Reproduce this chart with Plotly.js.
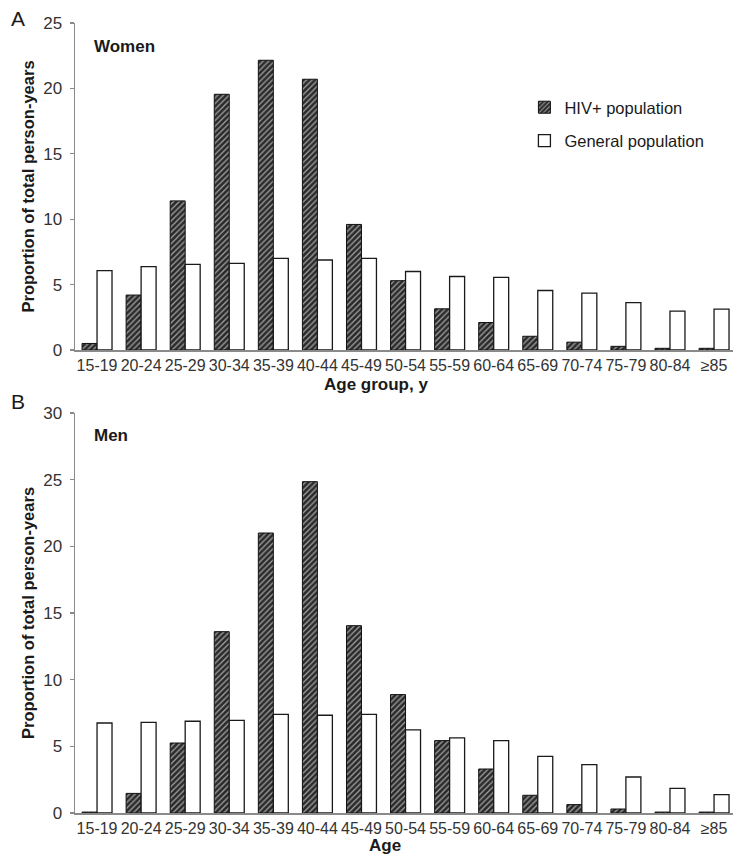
<!DOCTYPE html>
<html>
<head>
<meta charset="utf-8">
<script src="https://cdn.plot.ly/plotly-3.0.1.min.js"></script>
<style>html,body{margin:0;padding:0;background:#fff;}#chart{width:733px;height:857px;}</style>
</head>
<body>
<div id="chart"></div>
<script>
const ageGroups = ["15-19","20-24","25-29","30-34","35-39","40-44","45-49","50-54","55-59","60-64","65-69","70-74","75-79","80-84","\u226585"];
const womenHIV = [0.5, 4.2, 11.4, 19.55, 22.15, 20.7, 9.6, 5.3, 3.15, 2.1, 1.05, 0.6, 0.28, 0.13, 0.13];
const womenGeneral = [6.07, 6.37, 6.55, 6.63, 7.0, 6.88, 7.0, 6.0, 5.62, 5.55, 4.55, 4.35, 3.62, 2.97, 3.13];
const menHIV = [0.07, 1.47, 5.25, 13.6, 21.0, 24.85, 14.05, 8.88, 5.43, 3.3, 1.33, 0.63, 0.3, 0.07, 0.07];
const menGeneral = [6.75, 6.8, 6.88, 6.95, 7.4, 7.33, 7.4, 6.23, 5.63, 5.43, 4.25, 3.63, 2.7, 1.85, 1.38];
const seriesNames = ["HIV+ population", "General population"];
const panelLabels = ["A", "B"];
const panelTitles = ["Women", "Men"];
const xTitles = ["Age group, y", "Age"];
const yTitle = "Proportion of total person-years";

const FONT = "Arial, 'Liberation Sans', sans-serif";
const hivMarker = {
  color: "#3a3a3a",
  line: {color: "#111", width: 1},
  pattern: {shape: "/", bgcolor: "#2a2a2a", fgcolor: "#a0a0a0", size: 4, solidity: 0.33}
};
const genMarker = {color: "#ffffff", line: {color: "#1a1a1a", width: 1.3}};

const traces = [
  {type: "bar", x: ageGroups, y: womenHIV, name: seriesNames[0], marker: hivMarker, xaxis: "x", yaxis: "y", legendgroup: "a"},
  {type: "bar", x: ageGroups, y: womenGeneral, name: seriesNames[1], marker: genMarker, xaxis: "x", yaxis: "y", legendgroup: "b"},
  {type: "bar", x: ageGroups, y: menHIV, name: seriesNames[0], marker: hivMarker, xaxis: "x2", yaxis: "y2", showlegend: false},
  {type: "bar", x: ageGroups, y: menGeneral, name: seriesNames[1], marker: genMarker, xaxis: "x2", yaxis: "y2", showlegend: false}
];

const H = 857;
const xAx = {
  range: [-0.5, 14.43],
  showline: true, linecolor: "#8a8a8a", linewidth: 1.5,
  ticks: "", showgrid: false, zeroline: false,
  tickfont: {family: FONT, size: 16, color: "#333"},
  fixedrange: true
};
const yAxBase = {
  showline: true, linecolor: "#8a8a8a", linewidth: 1.5,
  ticks: "outside", ticklen: 4, tickcolor: "#8a8a8a", tickwidth: 1.2,
  showgrid: false, zeroline: false, dtick: 5,
  ticklabelstandoff: 4,
  tickfont: {family: FONT, size: 17, color: "#333"},
  title: {text: yTitle, font: {family: FONT, size: 16.5, color: "#1a1a1a", weight: "bold"}, standoff: 4}
};

const layout = {
  width: 733, height: H,
  margin: {l: 75, r: 0, t: 0, b: 0},
  paper_bgcolor: "#fff", plot_bgcolor: "#fff",
  barmode: "group", bargap: 0.32, bargroupgap: 0,
  showlegend: true,
  legend: {
    x: 0.683, y: 1 - 90/H, xanchor: "left", yanchor: "top",
    font: {family: FONT, size: 16.5, color: "#1a1a1a"},
    bgcolor: "rgba(0,0,0,0)", traceorder: "grouped", tracegroupgap: 9
  },
  xaxis: Object.assign({}, xAx, {domain: [0, 1], anchor: "y"}),
  yaxis: Object.assign({}, yAxBase, {domain: [1 - 350/H, 1 - 23/H], range: [0, 25], anchor: "x"}),
  xaxis2: Object.assign({}, xAx, {domain: [0, 1], anchor: "y2"}),
  yaxis2: Object.assign({}, yAxBase, {domain: [1 - 813/H, 1 - 413/H], range: [0, 30], anchor: "x2"}),
  annotations: [
    {text: panelLabels[0], xref: "paper", yref: "paper", x: (18-75)/658, y: 1 - 18/H, xanchor: "center", yanchor: "middle", showarrow: false, font: {family: FONT, size: 21, color: "#1a1a1a"}},
    {text: panelLabels[1], xref: "paper", yref: "paper", x: (18-75)/658, y: 1 - 401/H, xanchor: "center", yanchor: "middle", showarrow: false, font: {family: FONT, size: 21, color: "#1a1a1a"}},
    {text: "<b>" + panelTitles[0] + "</b>", xref: "paper", yref: "paper", x: (92-75)/658, y: 1 - 47/H, xanchor: "left", yanchor: "middle", showarrow: false, font: {family: FONT, size: 17, color: "#1a1a1a"}},
    {text: "<b>" + panelTitles[1] + "</b>", xref: "paper", yref: "paper", x: (92-75)/658, y: 1 - 435/H, xanchor: "left", yanchor: "middle", showarrow: false, font: {family: FONT, size: 17, color: "#1a1a1a"}},
    {text: "<b>" + xTitles[0] + "</b>", xref: "paper", yref: "paper", x: (376-75)/658, y: 1 - 384/H, xanchor: "center", yanchor: "middle", showarrow: false, font: {family: FONT, size: 17, color: "#1a1a1a"}},
    {text: "<b>" + xTitles[1] + "</b>", xref: "paper", yref: "paper", x: (385-75)/658, y: 1 - 845/H, xanchor: "center", yanchor: "middle", showarrow: false, font: {family: FONT, size: 17, color: "#1a1a1a"}}
  ]
};

Plotly.newPlot("chart", traces, layout, {displayModeBar: false, staticPlot: true});
</script>
</body>
</html>
